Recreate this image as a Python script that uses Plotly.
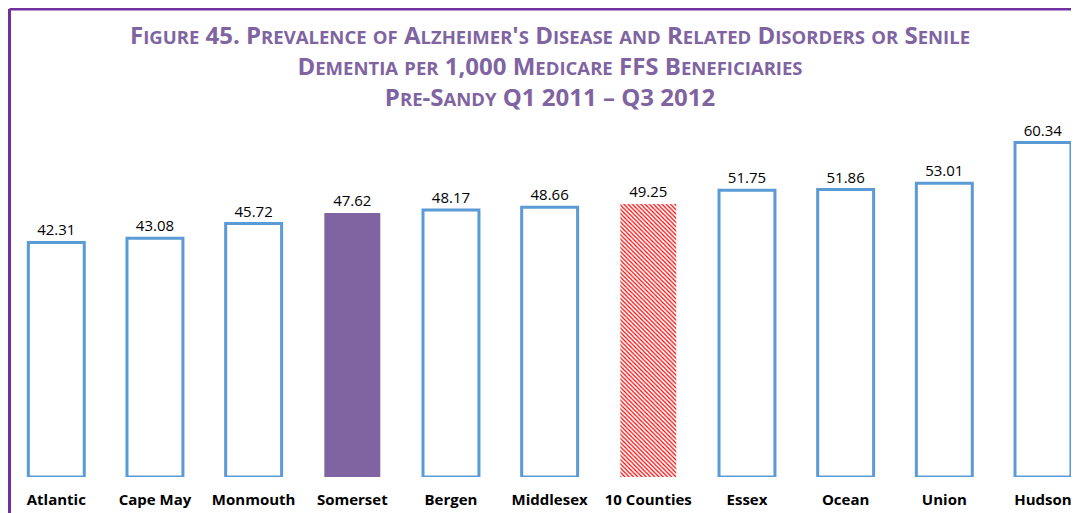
import plotly.graph_objects as go

categories = ["Atlantic", "Cape May", "Monmouth", "Somerset", "Bergen", "Middlesex",
              "10 Counties", "Essex", "Ocean", "Union", "Hudson"]
values = [42.31, 43.08, 45.72, 47.62, 48.17, 48.66, 49.25, 51.75, 51.86, 53.01, 60.34]
value_labels = ["42.31", "43.08", "45.72", "47.62", "48.17", "48.66", "49.25",
                "51.75", "51.86", "53.01", "60.34"]
highlight = "Somerset"
benchmark = "10 Counties"

title_lines = [
    "Figure 45. Prevalence of Alzheimer's Disease and Related Disorders or Senile",
    "Dementia per 1,000 Medicare FFS Beneficiaries",
    "Pre-Sandy Q1 2011 \u2013 Q3 2012",
]

BLUE = "#5B9BD5"
PURPLE = "#8064A2"
TITLE_PURPLE = "#8064A2"
BORDER = "#7030A0"
HATCH = "#FF0000"

BIG, SMALL = 24, 18.5


def small_caps(s):
    out = []
    for ch in s:
        if ch.islower():
            out.append(f"<span style='font-size:{SMALL}px'>{ch.upper()}</span>")
        else:
            out.append(ch)
    return "".join(out)


main_vals = [None if c == benchmark else v for c, v in zip(categories, values)]
main_text = ["" if c == benchmark else t for c, t in zip(categories, value_labels)]
bench_vals = [v if c == benchmark else None for c, v in zip(categories, values)]
bench_text = [t if c == benchmark else "" for c, t in zip(categories, value_labels)]

fill = [PURPLE if c == highlight else "white" for c in categories]
line_w = [0 if c == highlight else 3 for c in categories]
line_c = [PURPLE if c == highlight else BLUE for c in categories]

label_font = dict(family="Open Sans", size=15, color="#000000")

fig = go.Figure()
fig.add_trace(go.Bar(
    x=categories, y=main_vals,
    text=main_text, textposition="outside", textfont=label_font,
    cliponaxis=False,
    marker=dict(color=fill, line=dict(color=line_c, width=line_w)),
    hoverinfo="skip",
))
fig.add_trace(go.Bar(
    x=categories, y=bench_vals,
    text=bench_text, textposition="outside", textfont=label_font,
    cliponaxis=False,
    marker=dict(
        color=HATCH,
        line=dict(width=0),
        pattern=dict(shape="\\", fgcolor=HATCH, bgcolor="white",
                     size=3, solidity=0.4, fillmode="replace"),
    ),
    hoverinfo="skip",
))

# the page body has an 8px margin: the figure starts at (8, 8) in the window
W, H = 1071, 505
L, T, B = 0, 81, 36
pw = W - L
ph = H - T - B


def px_x(x):
    return (x - L) / pw


def px_y(y):
    return (H - B - y) / ph


title_text = "<br>".join(small_caps(t) for t in title_lines)
fig.add_annotation(
    text=title_text, xref="paper", yref="paper",
    x=px_x(542), y=px_y(8), xanchor="center", yanchor="top",
    showarrow=False, align="center",
    font=dict(family="Open Sans", size=BIG, color=TITLE_PURPLE, weight="bold"),
)

# purple frame (top and left)
fig.add_shape(type="line", xref="paper", yref="paper",
              x0=px_x(1.5), x1=1.0, y0=px_y(1), y1=px_y(1),
              line=dict(color=BORDER, width=3))
fig.add_shape(type="line", xref="paper", yref="paper",
              x0=px_x(1.5), x1=px_x(1.5), y0=px_y(1), y1=px_y(H),
              line=dict(color=BORDER, width=3))

fig.update_layout(
    width=W, height=H,
    margin=dict(l=L, r=0, t=T, b=B, pad=0, autoexpand=False),
    paper_bgcolor="white", plot_bgcolor="white",
    showlegend=False,
    barmode="overlay",
    bargap=0.433,
    xaxis=dict(range=[-0.4895, 10.365], showgrid=False, zeroline=False, showline=False,
               ticks="", ticklabelstandoff=12, automargin=False,
               tickfont=dict(family="Open Sans", size=15, color="#000000", weight="bold"),
               fixedrange=True),
    yaxis=dict(range=[0, 70], visible=False, fixedrange=True, automargin=False),
)

fig.write_html("out.html")
